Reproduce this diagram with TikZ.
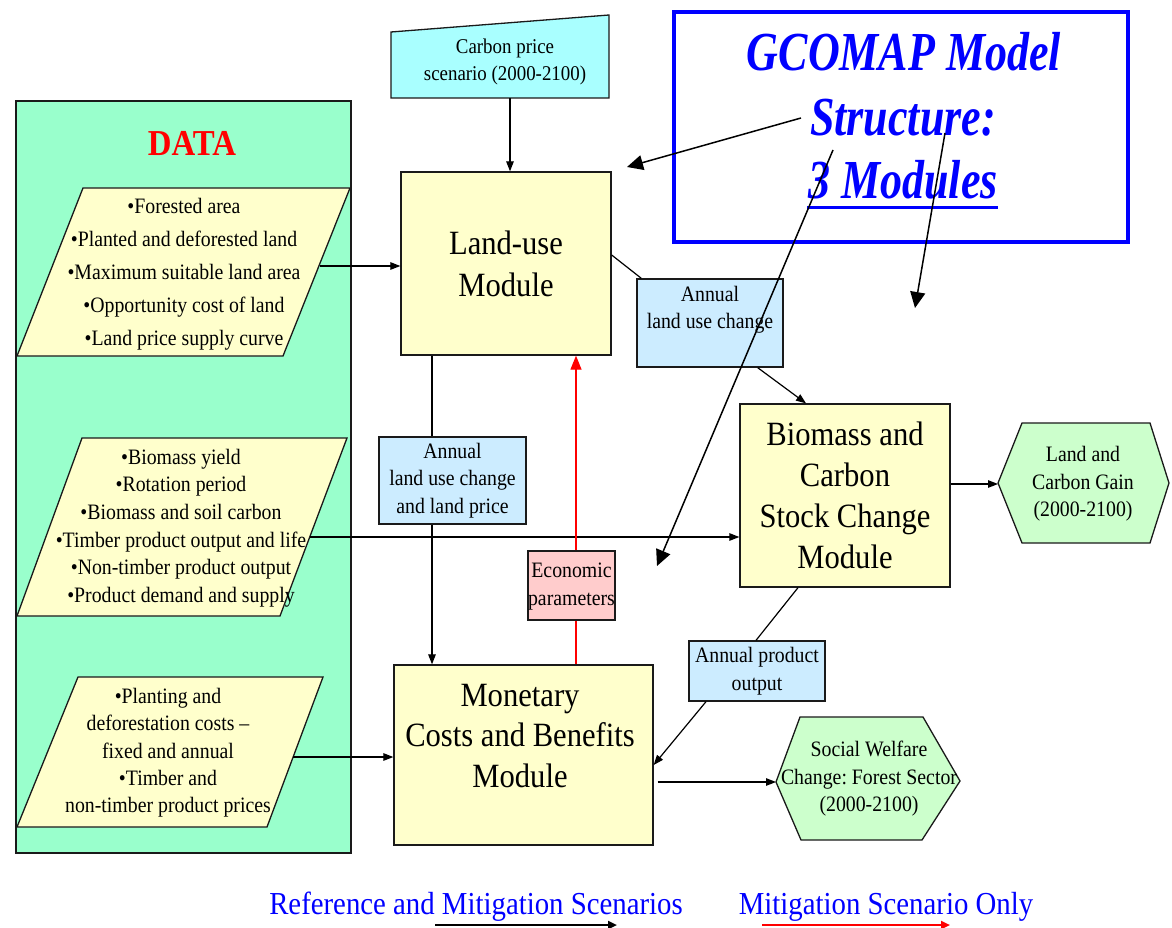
\documentclass[tikz,border=0pt]{standalone}
\usepackage{fontspec}
\setmainfont{Liberation Serif}[FakeStretch=0.9]
\newfontfamily\titlefont{Liberation Serif}[FakeStretch=0.8]
\usetikzlibrary{arrows.meta,calc}
\frenchspacing
\definecolor{mint}{HTML}{99FFCC}
\definecolor{pale}{HTML}{FFFFCC}
\definecolor{lblue}{HTML}{CCECFF}
\definecolor{lcyan}{HTML}{A9FFFF}
\definecolor{lpink}{HTML}{FFCCCC}
\definecolor{lgreen}{HTML}{CCFFCC}
\definecolor{tblue}{HTML}{0000FF}
\definecolor{edge}{HTML}{1A1A1A}
\tikzset{
 shapeline/.style={draw=edge, line width=1.3pt},
 modbox/.style={shapeline, fill=pale, inner sep=0pt},
 infobox/.style={shapeline, fill=lblue, inner sep=0pt},
 modtext/.style={font=\fontsize{34}{42}\selectfont, align=center, inner sep=0pt},
 smalltext/.style={font=\fontsize{22}{27.5}\selectfont, align=center, inner sep=0pt},
 conn/.style={draw=black, line width=1.2pt},
 arr/.style={conn, -{Triangle[length=10pt,width=7.5pt]}},
 redarr/.style={draw=red, line width=1.2pt, -{Triangle[length=14pt,width=11pt]}},
 bigarr/.style={conn, line width=1.5pt, -{Triangle[length=16pt,width=15pt]}},
 legarr/.style={line width=2.2pt, -{Triangle[length=9pt,width=8pt]}},
 titletext/.style={text=tblue, inner sep=0pt, font=\titlefont\bfseries\itshape\fontsize{55}{60}\selectfont},
 legtext/.style={text=tblue, inner sep=0pt, font=\fontsize{32}{36}\selectfont},
}
\begin{document}
\begin{tikzpicture}[x=1pt,y=-1pt]
\useasboundingbox[fill=white] (0,0) rectangle (1172,928);

% DATA panel
\node[shapeline, fill=mint, minimum width=335pt, minimum height=752pt, inner sep=0pt] (data) at (183.5,477) {};
\node[text=red, inner sep=0pt, font=\bfseries\fontsize{36.5}{40}\selectfont] (datat) at (192,143) {DATA};

% parallelograms
\draw[shapeline, fill=pale] (83,188) -- (350,188) -- (283,356) -- (17,356) -- cycle;
\node[smalltext, font=\fontsize{22}{33}\selectfont] (p1) at (184,274) {•Forested area\\•Planted and deforested land\\•Maximum suitable land area\\•Opportunity cost of land\\•Land price supply curve};
\draw[shapeline, fill=pale] (82,438) -- (347,438) -- (280,616) -- (17,616) -- cycle;
\node[smalltext, font=\fontsize{22}{27.6}\selectfont] (p2) at (181,528) {•Biomass yield\\•Rotation period\\•Biomass and soil carbon\\•Timber product output and life\\•Non-timber product output\\•Product demand and supply};
\draw[shapeline, fill=pale] (78,677) -- (323,677) -- (267,827) -- (17,827) -- cycle;
\node[smalltext, font=\fontsize{22}{27.3}\selectfont] (p3) at (168,753) {•Planting and\\deforestation costs –\\fixed and annual\\•Timber and\\non-timber product prices};
\coordinate (p1e) at (320,266);
\coordinate (p2e) at (310,537);
\coordinate (p3e) at (293,757);

% carbon price
\draw[shapeline, fill=lcyan] (391,32) -- (609,15) -- (609,98) -- (391,98) -- cycle;
\node[smalltext, font=\fontsize{21}{27}\selectfont] (cp) at (505,62) {Carbon price\\scenario (2000-2100)};
\coordinate (cpb) at (510,98);

% modules
\node[modbox, modtext, minimum width=210pt, minimum height=183pt] (lu) at (506,263.5) {Land-use\\Module};
\node[modbox, modtext, minimum width=210pt, minimum height=183pt, font=\fontsize{34}{41}\selectfont] (bio) at (845,495.5) {Biomass and\\Carbon\\Stock Change\\Module};
\node[modbox, minimum width=259pt, minimum height=180pt] (mon) at (523.5,755) {};
\node[modtext, font=\fontsize{34}{40.5}\selectfont] (mont) at (520,736) {Monetary\\Costs and Benefits\\Module};

% info boxes
\node[infobox, minimum width=146pt, minimum height=88pt] (alc1) at (710,323) {};
\node[smalltext] (alc1t) at (710,309.5) {Annual\\land use change};
\node[infobox, smalltext, minimum width=147pt, minimum height=87pt] (alc2) at (452.5,480.5) {Annual\\land use change\\and land price};
\node[shapeline, fill=lpink, minimum width=87pt, minimum height=69pt, inner sep=0pt] (econ) at (571.5,585.5) {};
\node[smalltext] (econt) at (571.5,586.5) {Economic\\parameters};
\node[infobox, smalltext, minimum width=136pt, minimum height=60pt] (apo) at (757,671) {Annual product\\output};

% outputs
\draw[shapeline, fill=lgreen] (998,483) -- (1022,423) -- (1150,423) -- (1169,483) -- (1150,543) -- (1022,543) -- cycle;
\node[smalltext] (lcg) at (1083,484) {Land and\\Carbon Gain\\(2000-2100)};
\coordinate (lcgw) at (998,484);
\draw[shapeline, fill=lgreen] (776,782) -- (800,717) -- (923,717) -- (960,781) -- (922,840) -- (801,840) -- cycle;
\node[smalltext] (swf) at (869,779) {Social Welfare\\Change: Forest Sector\\(2000-2100)};
\coordinate (swfw) at (776,782);

% connectors
\draw[arr] (cpb) -- (cpb |- lu.north);
\draw[arr] (p1e) -- (p1e -| lu.west);
\draw[arr] (p2e) -- (p2e -| bio.west);
\draw[arr] (p3e) -- (p3e -| mon.west);
\draw[conn] ([yshift=8.5pt]lu.east) -- ([xshift=5pt]alc1.north west);
\draw[arr] ([xshift=-26pt]alc1.south east) -- ([xshift=-39pt]bio.north);
\draw[conn] ([xshift=-20.5pt]alc2.north) -- ([xshift=-20.5pt]alc2.north |- lu.south);
\draw[arr] ([xshift=-20.5pt]alc2.south) -- ([xshift=-20.5pt]alc2.south |- mon.north);
\draw[draw=red, line width=1.2pt] ([xshift=4.5pt]econ.south) -- ([xshift=4.5pt]econ.south |- mon.north);
\draw[redarr] ([xshift=4.5pt]econ.north) -- ([xshift=4.5pt]econ.north |- lu.south);
\draw[conn] ([xshift=-47pt]bio.south) -- ([xshift=-1pt]apo.north);
\draw[arr] ([xshift=-51pt]apo.south) -- ([yshift=-10pt]mon.east);
\draw[arr] (bio.east |- lcgw) -- (lcgw);
\draw[arr] ([xshift=4pt]mon.east |- swfw) -- (swfw);

% title
\node[draw=tblue, line width=3.5pt, minimum width=454pt, minimum height=230pt, inner sep=0pt] (title) at (901,127) {};
\node[titletext] (t1) at (904,52) {GCOMAP Model};
\node[titletext] (t2) at (903,118) {Structure:};
\node[titletext] (t3) at (903,180) {3 Modules};
\draw[tblue, line width=3pt] (807,208) -- (998,208);
\coordinate (t1s) at (801,118);
\coordinate (t1e) at (627,167);
\coordinate (t2s) at (833,150);
\coordinate (t2e) at (657,566);
\coordinate (t3s) at (945,133);
\coordinate (t3e) at (915,308);
\draw[bigarr] (t1s) -- (t1e);
\draw[bigarr] (t2s) -- (t2e);
\draw[bigarr] (t3s) -- (t3e);

% legend
\node[legtext] (leg1) at (476,907) {Reference and Mitigation Scenarios};
\node[legtext] (leg2) at (886,907) {Mitigation Scenario Only};
\coordinate (l1s) at (435,925);
\coordinate (l1e) at (617,925);
\coordinate (l2s) at (762,925);
\coordinate (l2e) at (950,925);
\draw[legarr, black] (l1s) -- (l1e);
\draw[legarr, red] (l2s) -- (l2e);
\end{tikzpicture}
\end{document}
